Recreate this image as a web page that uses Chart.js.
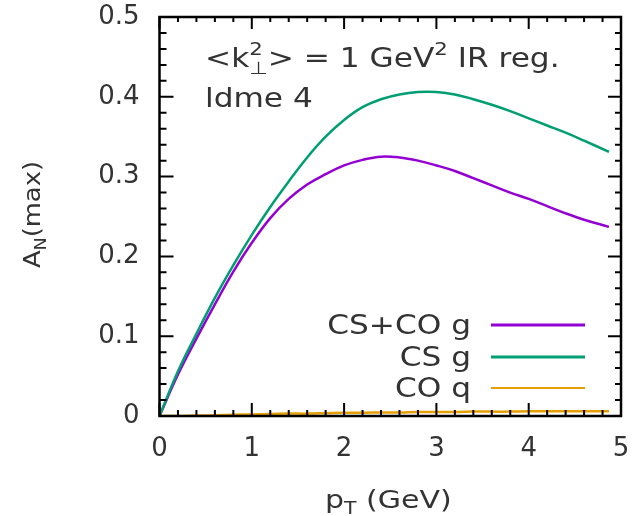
<!DOCTYPE html>
<html>
<head>
<meta charset="utf-8">
<script src="https://cdn.jsdelivr.net/npm/chart.js@4"></script>
<style>
  body { margin: 0; background: #fff; }
  canvas { display: block; }
</style>
</head>
<body>
<canvas id="asym" width="638" height="516"></canvas>
<script>
// pT values (GeV)
const ptValues = [0, 0.2, 0.4, 0.6, 0.8, 1.0, 1.2, 1.4, 1.6, 1.8, 2.0, 2.2, 2.4, 2.6, 2.8, 3.0, 3.2, 3.4, 3.6, 3.8, 4.0, 4.2, 4.4, 4.6, 4.87];
const csCoG = [0, 0.052, 0.097, 0.140, 0.181, 0.217, 0.248, 0.272, 0.290, 0.303, 0.314, 0.321, 0.325, 0.324, 0.320, 0.314, 0.307, 0.298, 0.289, 0.280, 0.272, 0.263, 0.254, 0.246, 0.237];
const csG = [0, 0.056, 0.103, 0.148, 0.189, 0.227, 0.262, 0.294, 0.324, 0.350, 0.371, 0.387, 0.397, 0.403, 0.406, 0.406, 0.403, 0.397, 0.390, 0.382, 0.373, 0.364, 0.355, 0.345, 0.331];
const coQ = [0, 0, 0.0005, 0.001, 0.0015, 0.002, 0.0025, 0.003, 0.003, 0.0035, 0.004, 0.004, 0.0045, 0.0045, 0.005, 0.005, 0.005, 0.0055, 0.0055, 0.0055, 0.006, 0.006, 0.006, 0.006, 0.006];
const seriesNames = ['CS+CO g', 'CS g', 'CO q'];
const seriesColors = ['#9400D3', '#009E73', '#E69F00'];

const FONT = "'DejaVu Sans', sans-serif";
const TEXT = '#333';

function pts(ys) { return ptValues.map((x, i) => ({ x: x, y: ys[i] })); }

// draw text made of pieces (normal / sup / sub), stretched a bit horizontally
function rich(ctx, x, y, parts, size, sx) {
  ctx.save();
  ctx.translate(x, y);
  ctx.scale(sx, 1);
  ctx.fillStyle = TEXT;
  ctx.textBaseline = 'alphabetic';
  ctx.textAlign = 'left';
  let cx = 0, held = 0;
  parts.forEach(p => {
    const kind = p[1] || 'n';
    const fs = kind === 'n' ? size : size * 0.68;
    const dy = kind === 'sup' ? -size * 0.45 : kind === 'sub' ? size * 0.25 : 0;
    ctx.font = fs + 'px ' + FONT;
    ctx.fillText(p[0], cx, dy);
    const w = ctx.measureText(p[0]).width;
    if (p[2] === 'stack') { held = w; }
    else { cx += Math.max(w, held); held = 0; }
  });
  ctx.restore();
}

const decor = {
  id: 'decor',
  afterDatasetsDraw(chart) {
    const ctx = chart.ctx;
    const a = chart.chartArea;
    const xs = chart.scales.x, ys = chart.scales.y;
    ctx.save();
    ctx.strokeStyle = '#000';
    // inward ticks on all four sides
    ctx.lineWidth = 2;
    for (let i = 0; i <= 25; i++) {
      const v = i * 0.2;
      const px = xs.getPixelForValue(v);
      const major = i % 5 === 0;
      ctx.beginPath();
      ctx.moveTo(px, a.bottom); ctx.lineTo(px, a.bottom - (major ? 13 : 6));
      ctx.moveTo(px, a.top); ctx.lineTo(px, a.top + (major ? 12 : 5));
      ctx.stroke();
    }
    for (let i = 0; i <= 25; i++) {
      const v = i * 0.02;
      const py = ys.getPixelForValue(v);
      const major = i % 5 === 0;
      ctx.beginPath();
      ctx.moveTo(a.left, py); ctx.lineTo(a.left + (major ? 14 : 7), py);
      ctx.moveTo(a.right, py); ctx.lineTo(a.right - (major ? 13 : 6), py);
      ctx.stroke();
    }
    ctx.lineWidth = 2.5;
    ctx.strokeRect(a.left, a.top, a.right - a.left, a.bottom - a.top);

    // key, text on the left of the sample line
    const rows = [325, 357, 388];
    seriesNames.forEach((name, i) => {
      ctx.save();
      ctx.translate(471, rows[i] + 9);
      ctx.scale(1.2, 1);
      ctx.font = '26px ' + FONT;
      ctx.fillStyle = TEXT;
      ctx.textAlign = 'right';
      ctx.fillText(name, 0, 0);
      ctx.restore();
      ctx.strokeStyle = seriesColors[i];
      ctx.lineWidth = i === 2 ? 2 : 3;
      ctx.beginPath();
      ctx.moveTo(491, rows[i]); ctx.lineTo(585, rows[i]);
      ctx.stroke();
    });

    // annotation
    rich(ctx, 205, 67, [['<k'], ['2', 'sup', 'stack'], ['\u22a5', 'sub'], ['> = 1 GeV'], ['2', 'sup'], [' IR reg.']], 26, 1.2);
    rich(ctx, 205, 107, [['ldme 4']], 26, 1.2);

    // axis titles
    rich(ctx, 325, 508, [['p'], ['T', 'sub'], [' (GeV)']], 25, 1.2);
    ctx.save();
    ctx.translate(40, 268);
    ctx.rotate(-Math.PI / 2);
    rich(ctx, 0, 0, [['A'], ['N', 'sub'], ['(max)']], 23, 1.12);
    ctx.restore();
    ctx.restore();
  }
};

new Chart(document.getElementById('asym'), {
  type: 'scatter',
  data: {
    datasets: [
      { label: seriesNames[0], data: pts(csCoG), borderColor: seriesColors[0], order: 2 },
      { label: seriesNames[1], data: pts(csG), borderColor: seriesColors[1], order: 1 },
      { label: seriesNames[2], data: pts(coQ), borderColor: seriesColors[2], order: 0 }
    ].map(d => Object.assign(d, {
      showLine: true,
      pointRadius: 0,
      borderWidth: 2.5,
      tension: 0.4,
      fill: false
    }))
  },
  options: {
    responsive: false,
    animation: false,
    devicePixelRatio: 1,
    layout: { padding: 0 },
    plugins: { legend: { display: false }, tooltip: { enabled: false } },
    scales: {
      x: {
        type: 'linear', min: 0, max: 5,
        grid: { display: false, drawTicks: false },
        border: { display: false },
        ticks: { stepSize: 1, padding: 18, color: TEXT, font: { family: FONT, size: 26 } },
        afterFit(s) { s.height = 100; s.paddingLeft = 0; s.paddingRight = 17; }
      },
      y: {
        min: 0, max: 0.5,
        grid: { display: false, drawTicks: false },
        border: { display: false },
        ticks: { stepSize: 0.1, padding: 20, color: TEXT, font: { family: FONT, size: 26 } },
        afterFit(s) { s.width = 159.5; s.paddingTop = 17; s.paddingBottom = 0; }
      }
    }
  },
  plugins: [decor]
});
</script>
</body>
</html>
